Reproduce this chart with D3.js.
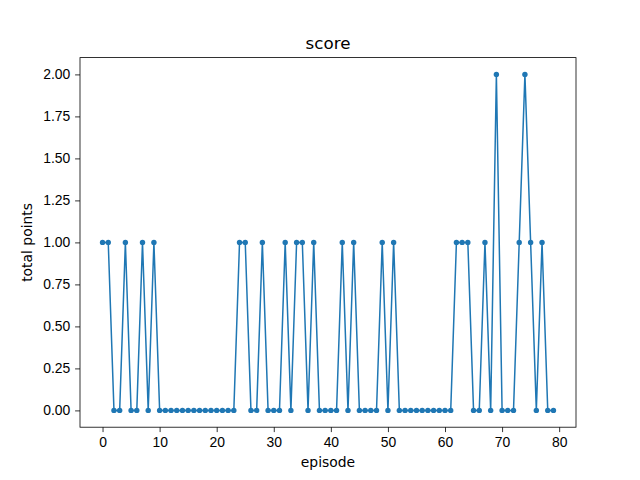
<!DOCTYPE html>
<html lang="en">
<head>
<meta charset="utf-8">
<style>
body { margin: 0; background: #fff; }
svg { display: block; font-family: "DejaVu Sans", sans-serif; }
.tick text { font-size: 13.9px; fill: #000; }
.tick line, .domain { stroke: #000; }
</style>
</head>
<body>
<svg id="chart" width="640" height="480"></svg>
<script src="https://cdn.jsdelivr.net/npm/d3@7"></script>
<script>
// score per episode
var episodes = d3.range(0, 80);
var scores = [1, 1, 0, 0, 1, 0, 0, 1, 0, 1,
              0, 0, 0, 0, 0, 0, 0, 0, 0, 0,
              0, 0, 0, 0, 1, 1, 0, 0, 1, 0,
              0, 0, 1, 0, 1, 1, 0, 1, 0, 0,
              0, 0, 1, 0, 1, 0, 0, 0, 0, 1,
              0, 1, 0, 0, 0, 0, 0, 0, 0, 0,
              0, 0, 1, 1, 1, 0, 0, 1, 0, 2,
              0, 0, 0, 1, 2, 1, 0, 1, 0, 0];
var xTicks = [0, 10, 20, 30, 40, 50, 60, 70, 80];
var yTicks = [0, 0.25, 0.5, 0.75, 1, 1.25, 1.5, 1.75, 2];

var svg = d3.select("#chart");
// axes box (matplotlib default subplot params)
var plotL = 80, plotR = 576, plotT = 57.6, plotB = 427.2;

var x = d3.scaleLinear().domain([-3.95, 82.95]).range([plotL, plotR]);
var y = d3.scaleLinear().domain([-0.1, 2.1]).range([plotB, plotT]);

var data = episodes.map(function(e, i) { return [e, scores[i]]; });

// line + markers
svg.append("path")
    .datum(data)
    .attr("fill", "none")
    .attr("stroke", "#1f77b4")
    .attr("stroke-width", 1.5)
    .attr("stroke-linejoin", "round")
    .attr("d", d3.line().x(function(d) { return x(d[0]); }).y(function(d) { return y(d[1]); }));

svg.append("g").selectAll("circle")
    .data(data)
    .enter().append("circle")
    .attr("cx", function(d) { return x(d[0]); })
    .attr("cy", function(d) { return y(d[1]); })
    .attr("r", 2.7)
    .attr("fill", "#1f77b4");

// axes
svg.append("g")
    .attr("transform", "translate(0," + plotB + ")")
    .call(d3.axisBottom(x).tickValues(xTicks).tickSize(4.9).tickPadding(4.9).tickFormat(d3.format("d")))
    .call(function(g) { g.select(".domain").remove(); });

svg.append("g")
    .attr("transform", "translate(" + plotL + ",0)")
    .call(d3.axisLeft(y).tickValues(yTicks).tickSize(4.9).tickPadding(4.9).tickFormat(d3.format(".2f")))
    .call(function(g) { g.select(".domain").remove(); });

svg.selectAll(".tick line").attr("stroke-width", 0.8);

// frame
svg.append("rect")
    .attr("x", plotL).attr("y", plotT)
    .attr("width", plotR - plotL).attr("height", plotB - plotT)
    .attr("fill", "none").attr("stroke", "#000").attr("stroke-width", 0.8);

// labels
svg.append("text")
    .attr("x", (plotL + plotR) / 2).attr("y", 49)
    .attr("text-anchor", "middle")
    .style("font-size", "16.7px")
    .text("score");

svg.append("text")
    .attr("x", (plotL + plotR) / 2).attr("y", 467)
    .attr("text-anchor", "middle")
    .style("font-size", "13.9px")
    .text("episode");

svg.append("text")
    .attr("transform", "translate(32," + ((plotT + plotB) / 2) + ") rotate(-90)")
    .attr("text-anchor", "middle")
    .style("font-size", "13.9px")
    .text("total points");
</script>
</body>
</html>
